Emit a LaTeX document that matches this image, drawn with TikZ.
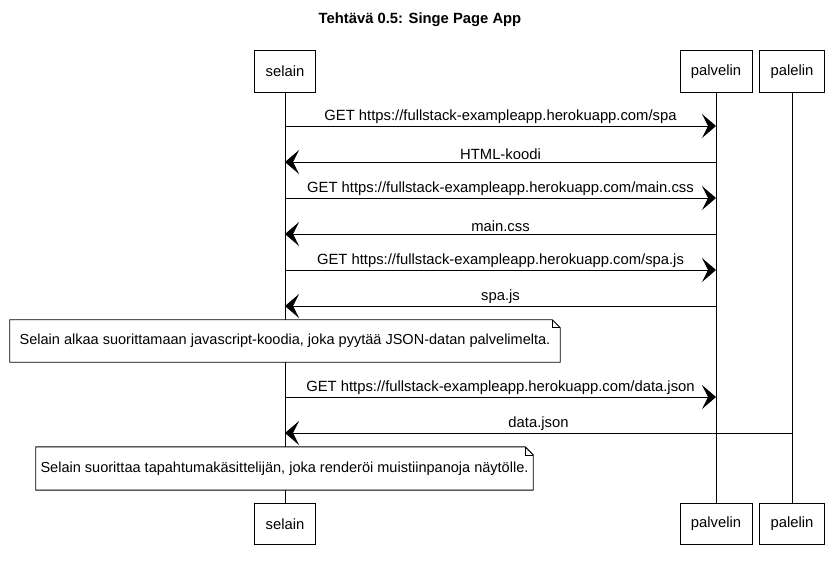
\documentclass[tikz,border=0pt]{standalone}
\usepackage{fontspec}
\setmainfont{Liberation Sans}
\usetikzlibrary{arrows.meta}

\begin{document}
\begin{tikzpicture}
      [%%%%%%%%%%%%%%%%%%%%%%%%%%%%%%
      x=0.75pt, y=-0.75pt,
      txt/.style={font=\fontsize{11.1}{13}\selectfont},
      actor/.style={rectangle,draw=black,line width=0.7pt,fill=white,txt,minimum height=31pt,inner xsep=8.2pt},
      life/.style={draw=black,line width=0.6pt},
      msg/.style={draw=black,line width=0.7pt,-{Stealth[length=10.5pt,width=18pt,inset=4.5pt]}},
      lbl/.style={txt,midway,above,inner sep=1.5pt},
      notebox/.style={rectangle,fill=white,font=\fontsize{10.9}{13}\selectfont,inner sep=0pt},
      ]%%%%%%%%%%%%%%%%%%%%%%%%%%%%%%
      \useasboundingbox (0,0) rectangle (837,569);

      \node[font=\bfseries\fontsize{11.1}{13}\selectfont] (title) at (420,20) {Tehtävä 0.5: Singe Page App};

      % osallistujat
      \node[actor] (selT) at (285,71.5) {selain};
      \node[actor] (palT) at (716,71.5) {palvelin};
      \node[actor] (pelT) at (792,71.5) {palelin};
      \node[actor] (selB) at (285,524) {selain};
      \node[actor] (palB) at (716,524) {palvelin};
      \node[actor] (pelB) at (792,524) {palelin};

      \draw[life] (selT) -- (selB);
      \draw[life] (palT) -- (palB);
      \draw[life] (pelT) -- (pelB);

      % viestit
      \coordinate (m1) at (0,126);
      \coordinate (m2) at (0,162);
      \coordinate (m3) at (0,198);
      \coordinate (m4) at (0,234);
      \coordinate (m5) at (0,270);
      \coordinate (m6) at (0,306);
      \coordinate (m7) at (0,397);
      \coordinate (m8) at (0,433);

      \draw[msg] (selT |- m1) -- (palT |- m1) node[lbl] {GET https://fullstack-exampleapp.herokuapp.com/spa};
      \draw[msg] (palT |- m2) -- (selT |- m2) node[lbl] {HTML-koodi};
      \draw[msg] (selT |- m3) -- (palT |- m3) node[lbl] {GET https://fullstack-exampleapp.herokuapp.com/main.css};
      \draw[msg] (palT |- m4) -- (selT |- m4) node[lbl] {main.css};
      \draw[msg] (selT |- m5) -- (palT |- m5) node[lbl] {GET https://fullstack-exampleapp.herokuapp.com/spa.js};
      \draw[msg] (palT |- m6) -- (selT |- m6) node[lbl] {spa.js};
      \draw[msg] (selT |- m7) -- (palT |- m7) node[lbl] {GET https://fullstack-exampleapp.herokuapp.com/data.json};
      \draw[msg] (pelT |- m8) -- (selT |- m8) node[lbl] {data.json};

      % huomautukset
      \node[notebox,minimum width=412.5pt,minimum height=31.5pt] (n1) at (285,341)
        {Selain alkaa suorittamaan javascript-koodia, joka pyytää JSON-datan palvelimelta.};
      \draw[line width=0.7pt] (n1.north west) -- ([xshift=-6pt]n1.north east) -- ([yshift=-6pt]n1.north east)
        -- (n1.south east) -- (n1.south west) -- cycle;
      \draw[line width=0.5pt] ([xshift=-6pt]n1.north east) -- ([xshift=-6pt,yshift=-6pt]n1.north east) -- ([yshift=-6pt]n1.north east);

      \node[notebox,minimum width=372.75pt,minimum height=32pt] (n2) at (284.5,468.5)
        {Selain suorittaa tapahtumakäsittelijän, joka renderöi muistiinpanoja näytölle.};
      \draw[line width=0.7pt] (n2.north west) -- ([xshift=-6pt]n2.north east) -- ([yshift=-6pt]n2.north east)
        -- (n2.south east) -- (n2.south west) -- cycle;
      \draw[line width=0.5pt] ([xshift=-6pt]n2.north east) -- ([xshift=-6pt,yshift=-6pt]n2.north east) -- ([yshift=-6pt]n2.north east);
    \end{tikzpicture}
\end{document}
